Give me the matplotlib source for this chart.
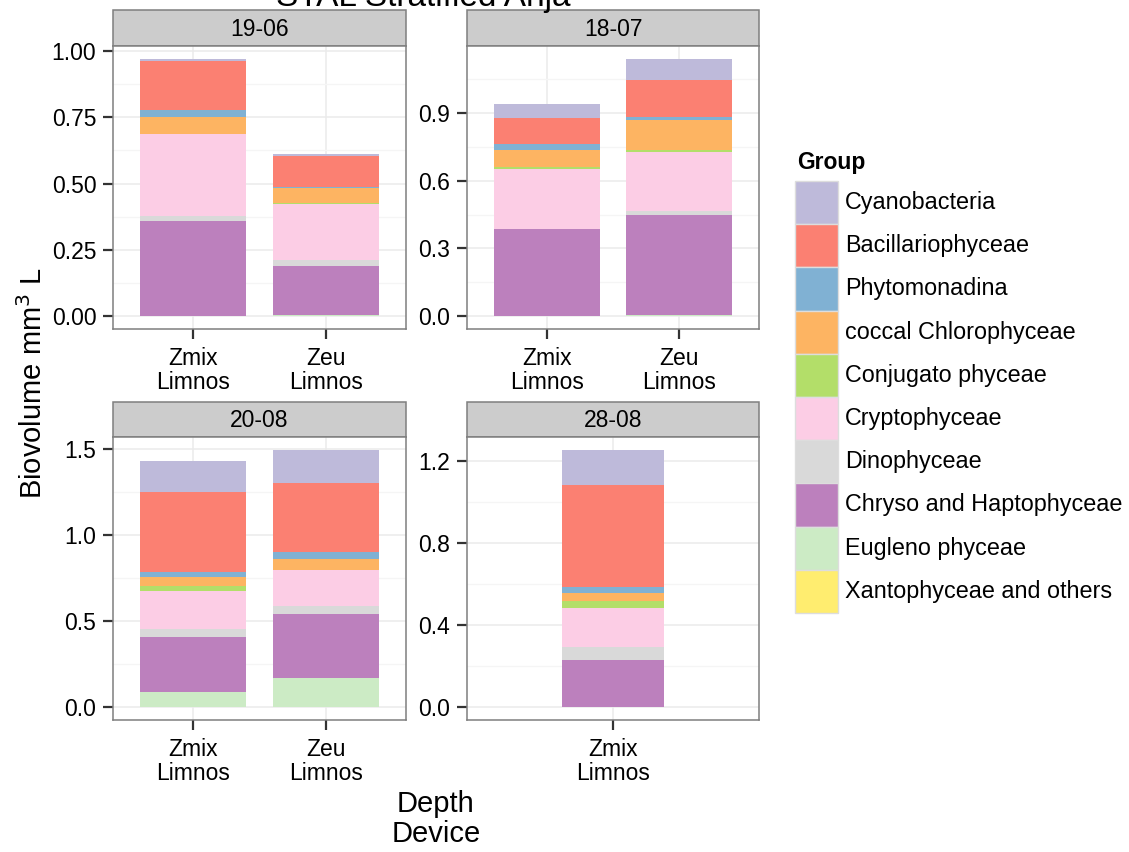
import matplotlib
matplotlib.use("Agg")
import matplotlib.pyplot as plt
from matplotlib.patches import Rectangle
import numpy as np

plt.rcParams['font.family'] = ['Liberation Sans', 'DejaVu Sans']

# ---- data -------------------------------------------------------------
groups = ["Cyanobacteria", "Bacillariophyceae", "Phytomonadina",
          "coccal Chlorophyceae", "Conjugato phyceae", "Cryptophyceae",
          "Dinophyceae", "Chryso and Haptophyceae", "Eugleno phyceae",
          "Xantophyceae and others"]
colors = ["#BEBADA", "#FB8072", "#80B1D3", "#FDB462", "#B3DE69",
          "#FCCDE5", "#D9D9D9", "#BC80BD", "#CCEBC5", "#FFED6F"]

dates = ["19-06", "18-07", "20-08", "28-08"]
depths = {"19-06": ["Zmix", "Zeu"], "18-07": ["Zmix", "Zeu"],
          "20-08": ["Zmix", "Zeu"], "28-08": ["Zmix"]}
device = "Limnos"

# biovolume (mm3/L) per group, bars in order:
# 19-06 Zmix, 19-06 Zeu, 18-07 Zmix, 18-07 Zeu, 20-08 Zmix, 20-08 Zeu, 28-08 Zmix
cyanobacteria = [0.008, 0.010, 0.062, 0.092, 0.178, 0.195, 0.170]
bacillariophyceae = [0.184, 0.115, 0.115, 0.166, 0.466, 0.401, 0.495]
phytomonadina = [0.028, 0.004, 0.029, 0.013, 0.029, 0.037, 0.031]
coccal_chlorophyceae = [0.062, 0.058, 0.076, 0.134, 0.051, 0.064, 0.039]
conjugatophyceae = [0.000, 0.002, 0.008, 0.008, 0.031, 0.000, 0.034]
cryptophyceae = [0.312, 0.210, 0.267, 0.261, 0.222, 0.211, 0.188]
dinophyceae = [0.018, 0.025, 0.000, 0.017, 0.043, 0.048, 0.065]
chryso_haptophyceae = [0.358, 0.182, 0.384, 0.445, 0.323, 0.370, 0.230]
euglenophyceae = [0.000, 0.006, 0.000, 0.004, 0.087, 0.168, 0.000]
xantophyceae_others = [0.000, 0.000, 0.000, 0.000, 0.000, 0.000, 0.000]

series = [cyanobacteria, bacillariophyceae, phytomonadina, coccal_chlorophyceae,
          conjugatophyceae, cryptophyceae, dinophyceae, chryso_haptophyceae,
          euglenophyceae, xantophyceae_others]

yticks = {"19-06": [0, 0.25, 0.5, 0.75, 1.0],
          "18-07": [0, 0.3, 0.6, 0.9],
          "20-08": [0, 0.5, 1.0, 1.5],
          "28-08": [0, 0.4, 0.8, 1.2]}
yfmt = {"19-06": "{:.2f}", "18-07": "{:.1f}", "20-08": "{:.1f}", "28-08": "{:.1f}"}

# ---- layout (pixels) ----------------------------------------------------
W, H = 1129, 852
fig = plt.figure(figsize=(W / 100, H / 100), dpi=100)
fig.patch.set_facecolor("white")

def fig_rect(x0, y0, x1, y1):
    return [x0 / W, 1 - y1 / H, (x1 - x0) / W, (y1 - y0) / H]

panel_px = {"19-06": (113, 46, 406, 329),
            "18-07": (467, 46, 759, 329),
            "20-08": (113, 437, 406, 720),
            "28-08": (467, 437, 759, 720)}
strip_px = {"19-06": (113, 10, 406, 46),
            "18-07": (467, 10, 759, 46),
            "20-08": (113, 402, 406, 437),
            "28-08": (467, 402, 759, 437)}

overlay = fig.add_axes([0, 0, 1, 1], zorder=0)
overlay.set_xlim(0, W)
overlay.set_ylim(H, 0)
overlay.axis("off")

border_col = "#7F7F7F"
tick_fs = 16.5

bar_idx = 0
for d in dates:
    ax = fig.add_axes(fig_rect(*panel_px[d]), zorder=2)
    cats = depths[d]
    n = len(cats)
    x = np.arange(1, n + 1)
    cols = list(range(bar_idx, bar_idx + n))
    bar_idx += n
    width = 0.8 if n > 1 else 0.42
    bottoms = np.zeros(n)
    stack = list(zip(groups, colors, series))[::-1]  # bottom to top
    for g, c, vals in stack:
        v = np.array([vals[i] for i in cols])
        ax.bar(x, v, width=width, bottom=bottoms, color=c, linewidth=0, zorder=3)
        bottoms += v
    ymax = bottoms.max()

    yt = yticks[d]
    ax.set_yticks(yt)
    ax.set_yticklabels([yfmt[d].format(t) for t in yt])
    step = yt[1] - yt[0]
    minors = [yt[0] - step / 2] + [t + step / 2 for t in yt]
    ax.set_yticks(minors, minor=True)
    ax.set_xticks(x)
    ax.set_xticklabels([f"{c}\n{device}" for c in cats], linespacing=1.05)

    # limits after ticks so the tick setters cannot widen them
    ax.set_ylim(-0.05 * ymax, 1.05 * ymax)
    ax.set_xlim(0.4, n + 0.6)

    ax.grid(True, which="major", color="#EBEBEB", linewidth=1.1, zorder=0)
    ax.grid(True, which="minor", axis="y", color="#F5F5F5", linewidth=1.0, zorder=0)
    ax.set_axisbelow(True)
    ax.tick_params(axis="both", which="major", length=7, width=1.6,
                   color="#333333", labelsize=tick_fs, labelcolor="black", pad=5)
    ax.tick_params(axis="y", which="minor", length=0)
    ax.tick_params(axis="x", pad=6)
    for s in ax.spines.values():
        s.set_color(border_col)
        s.set_linewidth(1.1)

    sx0, sy0, sx1, sy1 = strip_px[d]
    overlay.add_patch(Rectangle((sx0, sy0), sx1 - sx0, sy1 - sy0,
                                facecolor="#CCCCCC", edgecolor=border_col, linewidth=1.1))
    overlay.text((sx0 + sx1) / 2, (sy0 + sy1) / 2 + 1, d, ha="center", va="center",
                 fontsize=tick_fs, color="black")

# ---- titles ------------------------------------------------------------
fig.text(423 / W, 1 - 6 / H, "STAL Stratified Anja", ha="center", va="baseline",
         fontsize=24)
fig.text(436 / W, 1 - 819 / H, "Depth\nDevice", ha="center", va="center",
         fontsize=21, linespacing=1.1)
fig.text(33 / W, 1 - 383 / H, r"Biovolume mm$^3$ L", rotation=90, ha="center",
         va="center", fontsize=21)

# ---- legend ------------------------------------------------------------
overlay.text(797, 163, "Group", ha="left", va="center", fontsize=16.5, fontweight="bold")
key_top, key_h = 181, 43.2
for i, (g, c) in enumerate(zip(groups, colors)):
    y0 = key_top + i * key_h
    overlay.add_patch(Rectangle((795, y0), 43, key_h, facecolor=c,
                                edgecolor="#DDDDDD", linewidth=1.0))
    overlay.text(845, y0 + key_h / 2, g, ha="left", va="center", fontsize=16.8)

fig.savefig("out.png", dpi=100)
